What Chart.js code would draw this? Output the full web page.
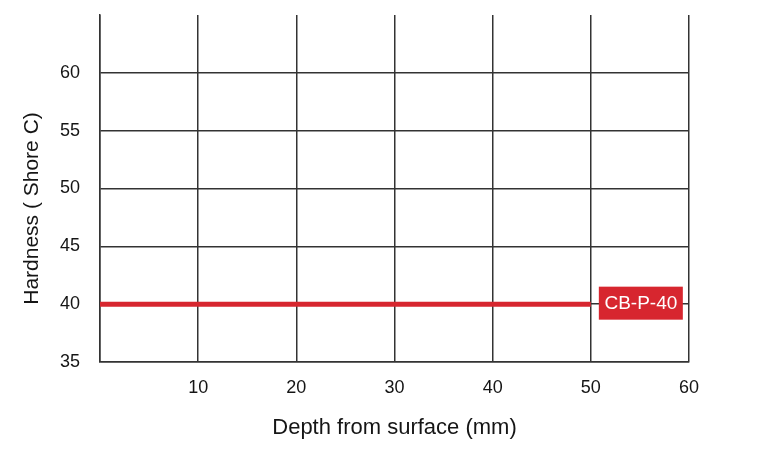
<!DOCTYPE html>
<html>
<head>
<meta charset="utf-8">
<script src="https://cdn.jsdelivr.net/npm/chart.js@4"></script>
<style>
  body { margin: 0; background: #fff; }
</style>
</head>
<body>
<canvas id="hardnessChart" width="759" height="451"></canvas>
<script>
// values
const depths = [0, 50];
const hardness = [40, 40];
const seriesName = 'CB-P-40';
const xTicks = [10, 20, 30, 40, 50, 60];
const yTicks = [35, 40, 45, 50, 55, 60];
const yTitle = 'Hardness ( Shore C)';

const red = '#d7262f';
const gridColor = '#333';
const textColor = '#151515';
const fontFamily = '"Liberation Sans", Arial, sans-serif';

// red name tag at the end of the line, plus the y title (sits a bit low in the original)
const extras = {
    id: 'extras',
    afterDatasetsDraw(chart) {
        const pts = chart.getDatasetMeta(0).data;
        const last = pts[pts.length - 1];
        const ctx = chart.ctx;
        const w = 84, h = 33;
        const x = last.x + 8;
        const y = last.y - h / 2 - 1;
        ctx.save();
        ctx.fillStyle = red;
        ctx.fillRect(x, y, w, h);
        ctx.fillStyle = '#fff';
        ctx.font = '19px ' + fontFamily;
        ctx.textAlign = 'center';
        ctx.textBaseline = 'middle';
        ctx.fillText(seriesName, x + w / 2, y + h / 2 + 1);

        const area = chart.chartArea;
        ctx.translate(32, (area.top + area.bottom) / 2 + 20);
        ctx.rotate(-Math.PI / 2);
        ctx.fillStyle = textColor;
        ctx.font = '21px ' + fontFamily;
        ctx.fillText(yTitle, 0, 0);
        ctx.restore();
    }
};

new Chart(document.getElementById('hardnessChart'), {
    type: 'line',
    data: {
        datasets: [{
            label: seriesName,
            data: depths.map((d, i) => ({ x: d, y: hardness[i] })),
            borderColor: red,
            borderWidth: 5,
            pointRadius: 0,
            fill: false
        }]
    },
    options: {
        responsive: false,
        animation: false,
        layout: { padding: { top: 15, right: 70, left: 0, bottom: 0 } },
        plugins: { legend: { display: false }, tooltip: { enabled: false } },
        scales: {
            x: {
                type: 'linear',
                min: 0,
                max: 60,
                afterFit: s => { s.height = 89; s.paddingLeft = 0; s.paddingRight = 0; },
                afterBuildTicks: s => { s.ticks = [0].concat(xTicks).map(v => ({ value: v })); },
                ticks: {
                    padding: 15,
                    color: textColor,
                    font: { family: fontFamily, size: 18 },
                    callback: v => (xTicks.includes(v) ? v : '')
                },
                grid: { color: gridColor, lineWidth: 1.5, drawTicks: false },
                border: { color: gridColor, width: 1.5 },
                title: {
                    display: true,
                    text: 'Depth from surface (mm)',
                    color: textColor,
                    font: { family: fontFamily, size: 22 },
                    padding: { top: 0, bottom: 10 }
                }
            },
            y: {
                min: 35,
                max: 65,
                afterFit: s => { s.width = 100; s.paddingTop = 0; s.paddingBottom = 0; },
                afterBuildTicks: s => { s.ticks = yTicks.concat([65]).map(v => ({ value: v })); },
                ticks: {
                    padding: 20,
                    color: textColor,
                    font: { family: fontFamily, size: 18 },
                    callback: v => (yTicks.includes(v) ? v : '')
                },
                grid: {
                    color: c => (c.tick && c.tick.value === 65 ? 'rgba(0,0,0,0)' : gridColor),
                    lineWidth: 1.5,
                    drawTicks: false
                },
                border: { color: gridColor, width: 1.5 }
            }
        }
    },
    plugins: [extras]
});
</script>
</body>
</html>
